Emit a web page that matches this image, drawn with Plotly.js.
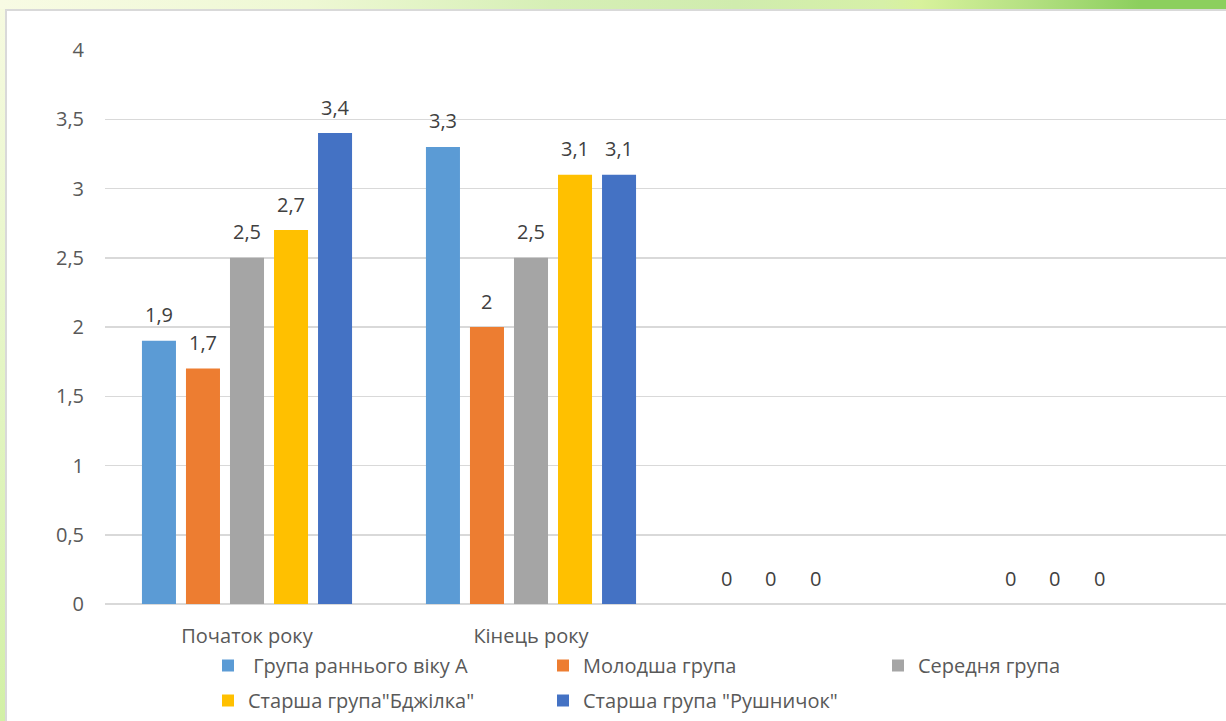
<!DOCTYPE html>
<html>
<head>
<meta charset="utf-8">
<script src="https://cdn.plot.ly/plotly-3.0.1.min.js"></script>
<style>
  html, body { margin:0; padding:0; width:1226px; height:721px; overflow:hidden; background:#fff; }
  #topband { position:absolute; left:0; top:0; width:1226px; height:9px;
    background: linear-gradient(to right, #f8fbe4 0%, #eef8d4 25%, #d6efb6 45%, #d0ecae 60%, #d6f0a8 72%, #d8f29c 75%, #b4e082 84%, #8ccf5e 93%, #8ccf5e 100%); }
  #leftband { position:absolute; left:0; top:9px; width:5px; height:712px;
    background: linear-gradient(to bottom, #f6fae0 0%, #e4f5c4 50%, #d2f0a6 100%); }
  #panel { position:absolute; left:5px; top:9px; width:1260px; height:760px; background:#fff;
    border-left:2px solid #d9d9d9; border-top:2px solid #d9d9d9; }
  #chart { position:absolute; left:0; top:0; width:1226px; height:721px; }
</style>
</head>
<body>
<div id="topband"></div>
<div id="leftband"></div>
<div id="panel"></div>
<div id="chart"></div>
<script>
const categories = ['Початок року', 'Кінець року', 'Категорія 3', 'Категорія 4'];
const tickLabels = ['Початок року', 'Кінець року', '', ''];
const seriesNames = [' Група раннього віку А', 'Молодша група', 'Середня група', 'Старша група"Бджілка"', 'Старша група "Рушничок"'];
const groupEarly = [1.9, 3.3, 0, 0];
const groupYounger = [1.7, 2.0, 0, 0];
const groupMiddle = [2.5, 2.5, 0, 0];
const groupBee = [2.7, 3.1, null, null];
const groupTowel = [3.4, 3.1, null, null];
const seriesValues = [groupEarly, groupYounger, groupMiddle, groupBee, groupTowel];
const seriesColors = ['#5b9bd5', '#ed7d31', '#a5a5a5', '#ffc000', '#4472c4'];
const seriesLegend = ['legend', 'legend', 'legend', 'legend2', 'legend2'];
const yTicks = [0, 0.5, 1, 1.5, 2, 2.5, 3, 3.5, 4];

const FONT = 'Open Sans, Noto Sans, sans-serif';
const bargap = 0.225;
const nSeries = seriesValues.length;
const slot = (1 - bargap) / nSeries;
const fmt = v => String(v).replace('.', ',');

const traces = seriesValues.map((vals, i) => ({
  type: 'bar',
  name: seriesNames[i],
  x: categories,
  y: vals,
  marker: { color: seriesColors[i] },
  legend: seriesLegend[i],
  hoverinfo: 'skip'
}));

const annotations = [];
seriesValues.forEach((vals, i) => {
  vals.forEach((v, j) => {
    if (v === null) return;
    annotations.push({
      xref: 'x', yref: 'y',
      x: j + (i - (nSeries - 1) / 2) * slot,
      y: v,
      text: fmt(v),
      showarrow: false,
      yanchor: 'middle',
      yshift: 26,
      font: { family: FONT, size: 20, color: '#404040' }
    });
  });
});

const legendCommon = {
  orientation: 'h',
  xref: 'container', yref: 'container',
  x: 208 / 1226, xanchor: 'left',
  yanchor: 'top',
  entrywidth: 290, entrywidthmode: 'pixels',
  bgcolor: 'rgba(0,0,0,0)',
  font: { family: FONT, size: 20, color: '#595959' }
};

const layout = {
  width: 1226, height: 721,
  margin: { l: 105, r: 0, t: 50, b: 117, pad: 0 },
  paper_bgcolor: 'rgba(0,0,0,0)',
  plot_bgcolor: 'rgba(0,0,0,0)',
  separators: ', ',
  barmode: 'group',
  bargap: bargap,
  bargroupgap: 0.227,
  font: { family: FONT, size: 20, color: '#595959' },
  xaxis: {
    type: 'category',
    range: [-0.5, -0.5 + 1121 / 284],
    tickmode: 'array',
    tickvals: categories,
    ticktext: tickLabels,
    ticks: '',
    showgrid: false,
    showline: false,
    zeroline: false,
    ticklabelstandoff: 18,
    tickfont: { family: FONT, size: 20, color: '#595959' }
  },
  yaxis: {
    range: [0, 4],
    tickmode: 'array',
    tickvals: yTicks,
    ticktext: yTicks.map(fmt),
    showgrid: true,
    gridcolor: '#d9d9d9',
    gridwidth: 1.5,
    zeroline: true,
    zerolinecolor: '#d9d9d9',
    zerolinewidth: 1.5,
    showline: false,
    ticks: '',
    ticklabelstandoff: 20,
    tickfont: { family: FONT, size: 20, color: '#595959' }
  },
  showlegend: true,
  legend: Object.assign({}, legendCommon, { y: 1 - 646 / 721 }),
  legend2: Object.assign({}, legendCommon, { y: 1 - 681 / 721 }),
  annotations: annotations
};

Plotly.newPlot('chart', traces, layout, { displayModeBar: false, staticPlot: true });
</script>
</body>
</html>
